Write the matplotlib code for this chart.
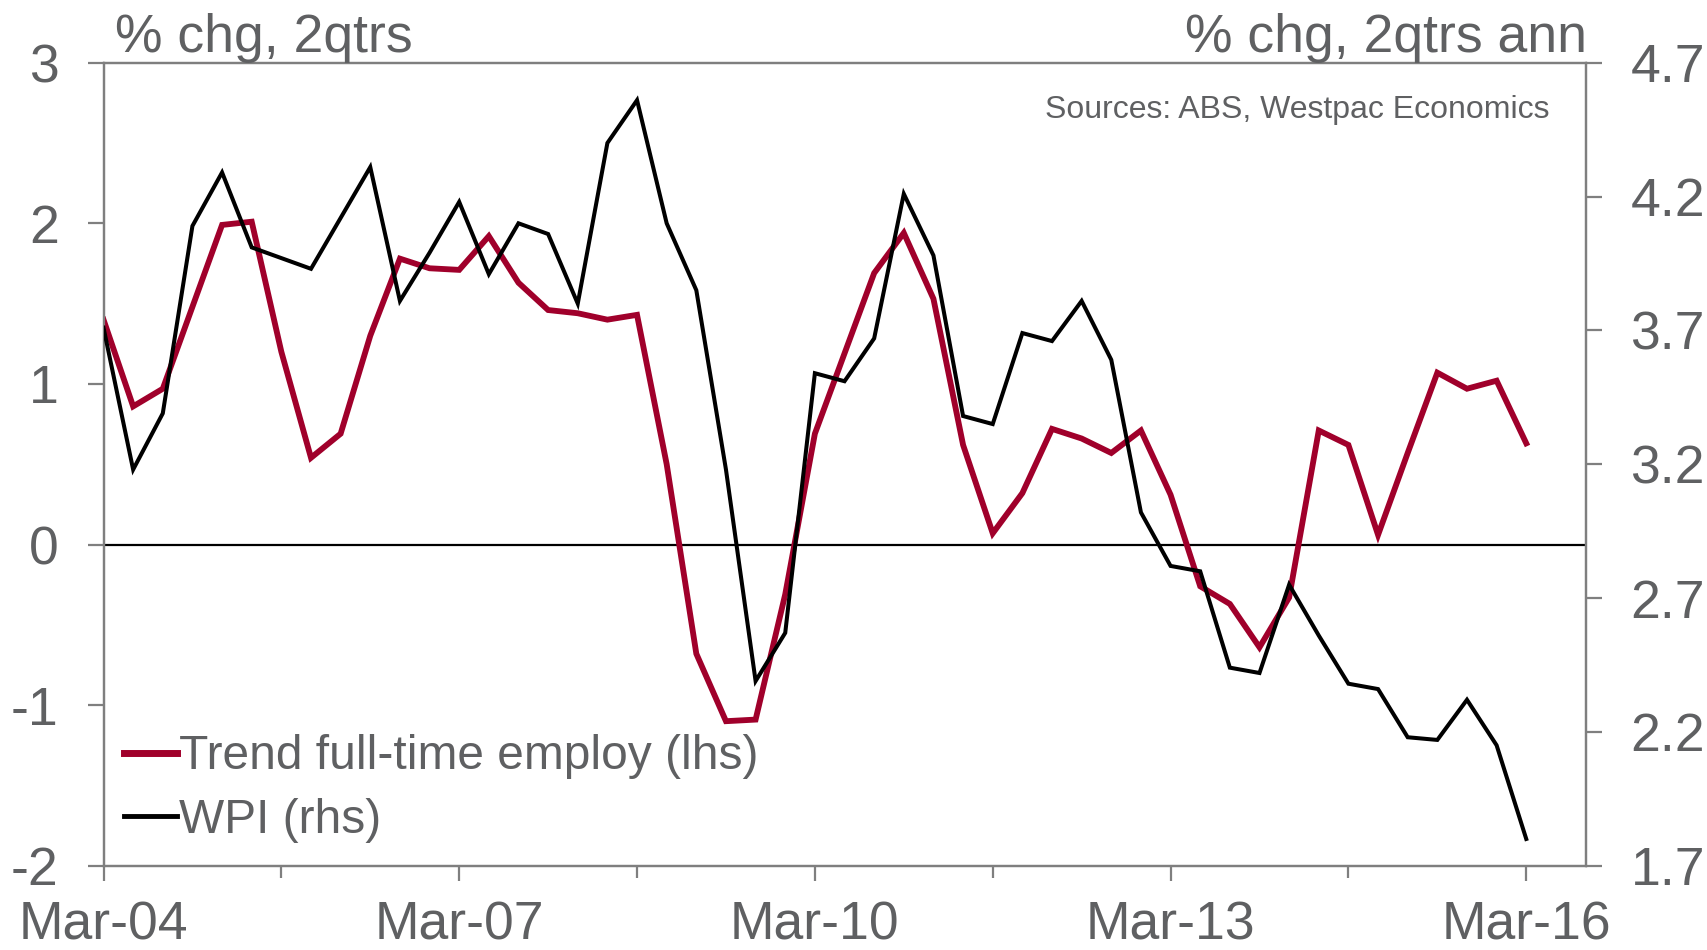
import numpy as np
import matplotlib
matplotlib.use("Agg")
import matplotlib.pyplot as plt
from matplotlib.ticker import FixedLocator, MultipleLocator

plt.rcParams['font.family'] = ['Liberation Sans', 'DejaVu Sans']
plt.rcParams['axes.unicode_minus'] = False

# --------------------------------------------
# Data (quarterly, Mar-04 .. Mar-16)
# --------------------------------------------
tick_labels = ["Mar-04", "Mar-07", "Mar-10", "Mar-13", "Mar-16"]

# Trend full-time employment, % chg 2qtrs (lhs)
employ = [1.40, 0.86, 0.97, 1.48, 1.99, 2.01, 1.20, 0.54, 0.69, 1.30,
          1.78, 1.72, 1.71, 1.92, 1.63, 1.46, 1.44, 1.40, 1.43, 0.50,
          -0.68, -1.10, -1.09, -0.31, 0.69, 1.19, 1.69, 1.94, 1.53, 0.62,
          0.07, 0.32, 0.72, 0.66, 0.57, 0.71, 0.31, -0.26, -0.37, -0.64,
          -0.33, 0.71, 0.62, 0.06, 0.57, 1.07, 0.97, 1.02, 0.63]

# WPI, % chg 2qtrs ann (rhs)
wpi = [3.71, 3.18, 3.39, 4.09, 4.29, 4.01, 3.97, 3.93, 4.12, 4.31,
       3.81, 3.99, 4.18, 3.91, 4.10, 4.06, 3.80, 4.40, 4.56, 4.10,
       3.85, 3.18, 2.39, 2.57, 3.54, 3.51, 3.67, 4.21, 3.98, 3.38,
       3.35, 3.69, 3.66, 3.81, 3.59, 3.02, 2.82, 2.80, 2.44, 2.42,
       2.75, 2.56, 2.38, 2.36, 2.18, 2.17, 2.32, 2.15, 1.80]

x = np.arange(len(employ))

# --------------------------------------------
# Style
# --------------------------------------------
RED = "#A0002B"
TXT = "#5f6062"
SPINE = "#7f7f7f"
TICK_FS = 38.5

fig = plt.figure(figsize=(17.08, 9.5), dpi=100)
ax = fig.add_axes([0.0606, 0.0887, 0.9283 - 0.0606, 0.934 - 0.0887])
ax2 = ax.twinx()

ax.axhline(0, color="black", lw=1.6, zorder=1)
l1, = ax.plot(x, employ, color=RED, lw=4.2, solid_joinstyle="miter", zorder=3)
l2, = ax2.plot(x, wpi, color="black", lw=2.9, solid_joinstyle="miter", zorder=3)

ax.set_xlim(0, 50)
ax.set_ylim(-2, 3)
ax2.set_ylim(1.7, 4.7)

ax.yaxis.set_major_locator(MultipleLocator(1))
ax2.yaxis.set_major_locator(FixedLocator([1.7, 2.2, 2.7, 3.2, 3.7, 4.2, 4.7]))
ax2.set_yticklabels(["1.7", "2.2", "2.7", "3.2", "3.7", "4.2", "4.7"])

ax.xaxis.set_major_locator(FixedLocator([0, 12, 24, 36, 48]))
ax.xaxis.set_minor_locator(FixedLocator([6, 18, 30, 42]))
ax.set_xticklabels(tick_labels)

for a in (ax, ax2):
    for s in a.spines.values():
        s.set_color(SPINE)
        s.set_linewidth(1.6)

ax.tick_params(axis="y", direction="out", length=11.3, width=1.6, color=SPINE,
               labelsize=TICK_FS, labelcolor=TXT, pad=21)
ax2.tick_params(axis="y", direction="out", length=11.3, width=1.6, color=SPINE,
                labelsize=TICK_FS, labelcolor=TXT, pad=21)
ax.tick_params(axis="x", which="major", direction="out", length=11, width=1.6,
               color=SPINE, labelsize=TICK_FS, labelcolor=TXT, pad=14)
ax.tick_params(axis="x", which="minor", direction="out", length=8.4, width=1.6,
               color=SPINE)

# --------------------------------------------
# Text
# --------------------------------------------
fig.text(0.0673, 0.9456, "% chg, 2qtrs", fontsize=TICK_FS, color=TXT,
         ha="left", va="baseline")
fig.text(0.929, 0.9456, "% chg, 2qtrs ann", fontsize=TICK_FS, color=TXT,
         ha="right", va="baseline")
fig.text(0.907, 0.8755, "Sources: ABS, Westpac Economics", fontsize=23,
         color=TXT, ha="right", va="baseline")

leg = ax.legend([l1, l2], ["Trend full-time employ (lhs)", "WPI (rhs)"],
                loc="upper left", bbox_to_anchor=(0.0726, 0.227),
                bbox_transform=fig.transFigure, frameon=False,
                fontsize=34.5, handlelength=1.1, handletextpad=0.05,
                borderpad=0, borderaxespad=0, labelspacing=0.38)
for t in leg.get_texts():
    t.set_color(TXT)
leg.get_lines()[0].set_linewidth(5)
leg.get_lines()[1].set_linewidth(3.5)

fig.savefig("out.png", dpi=100)
